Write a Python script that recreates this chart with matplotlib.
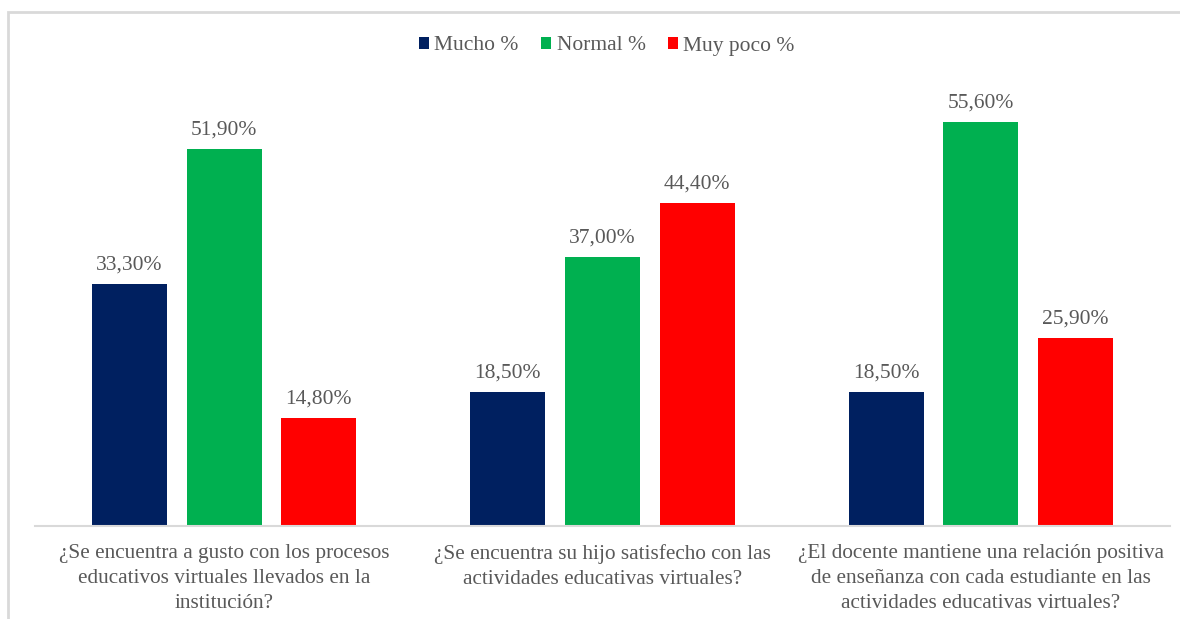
import matplotlib.pyplot as plt
from matplotlib.patches import Rectangle, Patch
import numpy as np

# data
categories = [
    "¿Se encuentra a gusto con los procesos\neducativos virtuales llevados en la\ninstitución?",
    "¿Se encuentra su hijo satisfecho con las\nactividades educativas virtuales?",
    "¿El docente mantiene una relación positiva\nde enseñanza con cada estudiante en las\nactividades educativas virtuales?",
]
series_names = ["Mucho %", "Normal %", "Muy poco %"]
mucho = [33.3, 18.5, 18.5]
normal = [51.9, 37.0, 55.6]
muy_poco = [14.8, 44.4, 25.9]

colors = ["#002060", "#00B050", "#FF0000"]
text_gray = "#595959"
line_gray = "#D9D9D9"

plt.rcParams['font.family'] = ['Liberation Serif', 'DejaVu Serif']

W, H = 1180, 619
fig = plt.figure(figsize=(W / 100, H / 100), dpi=100)
ax = fig.add_axes([35 / W, (H - 526) / H, (1170 - 35) / W, (526 - 90) / H])

x = np.arange(len(categories))
step = 0.25
width = 0.198
for i, (name, vals) in enumerate(zip(series_names, [mucho, normal, muy_poco])):
    pos = x + (i - 1) * step
    bars = ax.bar(pos, vals, width=width, color=colors[i], label=name)
    for b, v in zip(bars, vals):
        ax.text(b.get_x() + b.get_width() / 2, v + 1.3,
                f"{v:.2f}%".replace('.', ','), ha='center', va='bottom',
                fontsize=15.5, color=text_gray)

ax.set_xlim(-0.5, 2.5)
ax.set_ylim(0, 60)
ax.set_yticks([])
ax.set_xticks(x)
ax.set_xticklabels(categories, fontsize=15.3, color=text_gray, linespacing=1.42)
ax.tick_params(axis='x', length=0, pad=13)
for s in ['top', 'right', 'left']:
    ax.spines[s].set_visible(False)
ax.spines['bottom'].set_color(line_gray)
ax.spines['bottom'].set_linewidth(1.5)

handles = [Patch(facecolor=c) for c in colors]
fig.legend(handles, series_names, loc='center', bbox_to_anchor=(607 / W, 1 - 46 / H),
           ncol=3, frameon=False, fontsize=15.5, labelcolor=text_gray,
           handlelength=0.45, handleheight=0.45, handletextpad=0.25, columnspacing=1.05)

# outer chart border (only top and left visible in the reference crop)
fig.add_artist(Rectangle((8 / W, -0.1), 1.2, 1.1 - 12 / H, transform=fig.transFigure,
                         fill=False, edgecolor=line_gray, linewidth=2))

fig.savefig("out.png", dpi=100)
